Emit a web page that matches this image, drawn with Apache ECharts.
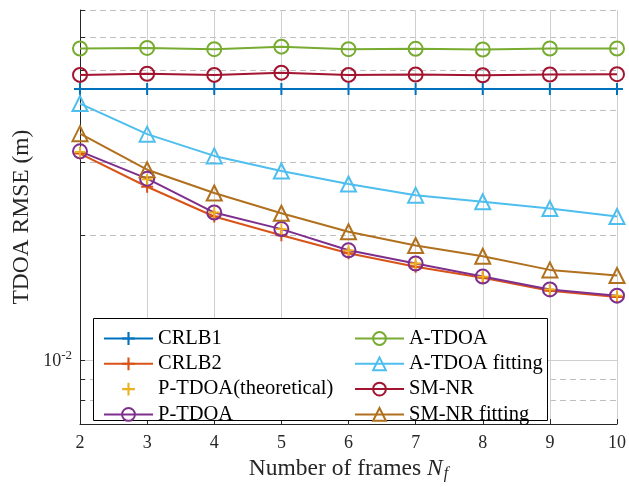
<!DOCTYPE html>
<html>
<head>
<meta charset="utf-8">
<script src="https://cdn.jsdelivr.net/npm/echarts@6/dist/echarts.min.js"></script>
<style>
  html, body { margin: 0; padding: 0; background: #fff; }
  #chart { width: 629px; height: 487px; }
</style>
</head>
<body>
<div id="chart"></div>
<script>
// values
const frames = [2, 3, 4, 5, 6, 7, 8, 9, 10];
const crlb1 = [0.0451, 0.0451, 0.0451, 0.0451, 0.0451, 0.0451, 0.0451, 0.0451, 0.0451];
const crlb2 = [0.0315, 0.0262, 0.0222, 0.0200, 0.0181, 0.0168, 0.0158, 0.0147, 0.0142];
const ptdoaTheo = [0.0318, 0.0273, 0.0227, 0.0207, 0.0184, 0.0171, 0.0159, 0.0148, 0.0143];
const ptdoa = [0.0319, 0.0274, 0.0227, 0.0207, 0.0184, 0.0171, 0.0159, 0.0148, 0.0143];
const atdoa = [0.0565, 0.0567, 0.0563, 0.0571, 0.0563, 0.0564, 0.0562, 0.0565, 0.0565];
const atdoaFit = [0.0416, 0.0351, 0.0311, 0.0286, 0.0266, 0.0250, 0.0241, 0.0232, 0.0222];
const smnr = [0.0488, 0.0491, 0.0488, 0.0494, 0.0488, 0.0489, 0.0487, 0.0489, 0.0490];
const smnrFit = [0.0352, 0.0288, 0.0253, 0.0226, 0.0204, 0.0189, 0.0178, 0.0165, 0.0160];

const minorTicks = [0.008, 0.009, 0.02, 0.03, 0.04, 0.05, 0.06, 0.07];
const majorTicks = [0.01];

const FONT = '"Liberation Serif", "Times New Roman", serif';
const AXIS_COLOR = '#262626';
const PLUS = 'path://M5,0 h2 v5 h5 v2 h-5 v5 h-2 v-5 h-5 v-2 h5 z';

const chart = echarts.init(document.getElementById('chart'), null, { renderer: 'canvas' });

const pairs = arr => frames.map((f, i) => [f, arr[i]]);

function makeSeries(name, values, color, symbol, opts = {}) {
  const hollow = symbol === 'circle' || symbol === 'triangle';
  return {
    name,
    type: 'line',
    data: pairs(values),
    symbol,
    symbolSize: opts.symbolSize || 14,
    showSymbol: true,
    z: opts.z || 2,
    lineStyle: { color, width: 2, opacity: opts.noLine ? 0 : 1 },
    itemStyle: hollow
      ? { color: 'rgba(0,0,0,0)', borderColor: color, borderWidth: 2 }
      : { color, borderWidth: 0 },
    emphasis: { disabled: true },
  };
}

const series = [
  makeSeries('CRLB1', crlb1, '#0072BD', PLUS, { symbolSize: 12 }),
  makeSeries('CRLB2', crlb2, '#D95319', PLUS, { symbolSize: 12 }),
  makeSeries('P-TDOA', ptdoa, '#7E2F8E', 'circle'),
  makeSeries('P-TDOA(theoretical)', ptdoaTheo, '#EDB120', PLUS, { symbolSize: 11, noLine: true, z: 3 }),
  makeSeries('A-TDOA', atdoa, '#77AC30', 'circle'),
  makeSeries('A-TDOA fitting', atdoaFit, '#4DBEEE', 'triangle', { symbolSize: 15 }),
  makeSeries('SM-NR', smnr, '#A2142F', 'circle'),
  makeSeries('SM-NR fitting', smnrFit, '#B0701E', 'triangle', { symbolSize: 15 }),
];

const legendBase = {
  orient: 'vertical',
  top: 323,
  itemWidth: 49,
  itemHeight: 16,
  itemGap: 4.3,
  selectedMode: false,
  z: 6,
  textStyle: { fontFamily: FONT, fontSize: 20.5, color: '#000', lineHeight: 20 },
};

const option = {
  backgroundColor: '#fff',
  animation: false,
  grid: { left: 80, right: 11, top: 10, bottom: 53 },
  legend: [
    Object.assign({}, legendBase, { left: 98, data: ['CRLB1', 'CRLB2', 'P-TDOA(theoretical)', 'P-TDOA'] }),
    Object.assign({}, legendBase, { left: 349, data: ['A-TDOA', 'A-TDOA fitting', 'SM-NR', 'SM-NR fitting'] }),
  ],
  graphic: [{
    type: 'rect',
    z: 5,
    shape: { x: 93.5, y: 318.5, width: 454, height: 102 },
    style: { fill: '#fff', stroke: '#000', lineWidth: 1 },
    silent: true,
  }],
  xAxis: {
    type: 'value',
    min: 2,
    max: 10,
    interval: 1,
    name: '{r|Number of frames }{i|N}{s|f}',
    nameLocation: 'middle',
    nameGap: 31,
    nameTextStyle: {
      rich: {
        r: { fontFamily: FONT, fontSize: 23.5, color: AXIS_COLOR },
        i: { fontFamily: FONT, fontSize: 23.5, color: AXIS_COLOR, fontStyle: 'italic' },
        s: { fontFamily: FONT, fontSize: 16, color: AXIS_COLOR, fontStyle: 'italic', padding: [10, 0, 0, 1] },
      },
    },
    axisLine: { show: true, lineStyle: { color: AXIS_COLOR, width: 1 } },
    axisTick: { show: true, inside: true, length: 5, lineStyle: { color: AXIS_COLOR } },
    axisLabel: { fontFamily: FONT, fontSize: 18, color: AXIS_COLOR, margin: 10 },
    splitLine: { show: true, lineStyle: { color: '#cfcfcf', width: 1 } },
  },
  yAxis: [
    {
      type: 'log',
      logBase: 10,
      min: 0.007,
      max: 0.07,
      position: 'left',
      name: 'TDOA RMSE (m)',
      nameLocation: 'middle',
      nameGap: 46,
      nameTextStyle: { fontFamily: FONT, fontSize: 23.5, color: AXIS_COLOR },
      axisLine: { show: true, lineStyle: { color: AXIS_COLOR, width: 1 } },
      axisTick: { show: true, inside: true, length: 5, customValues: minorTicks, lineStyle: { color: AXIS_COLOR } },
      axisLabel: { show: false },
      splitLine: { show: true, lineStyle: { color: '#bfbfbf', width: 1, type: [6, 4] } },
    },
    {
      type: 'log',
      logBase: 10,
      min: 0.007,
      max: 0.07,
      position: 'left',
      axisLine: { show: false },
      axisTick: { show: true, inside: true, length: 5, customValues: majorTicks, lineStyle: { color: AXIS_COLOR } },
      axisLabel: {
        show: true,
        customValues: majorTicks,
        margin: 8,
        formatter: () => '{b|10}{s|-2}',
        rich: {
          b: { fontFamily: FONT, fontSize: 18, color: AXIS_COLOR, verticalAlign: 'bottom' },
          s: { fontFamily: FONT, fontSize: 13, color: AXIS_COLOR, verticalAlign: 'bottom', padding: [0, 0, 8, 0] },
        },
      },
      splitLine: { show: true, lineStyle: { color: '#cfcfcf', width: 1 } },
    },
  ],
  series,
};

chart.setOption(option);
</script>
</body>
</html>
